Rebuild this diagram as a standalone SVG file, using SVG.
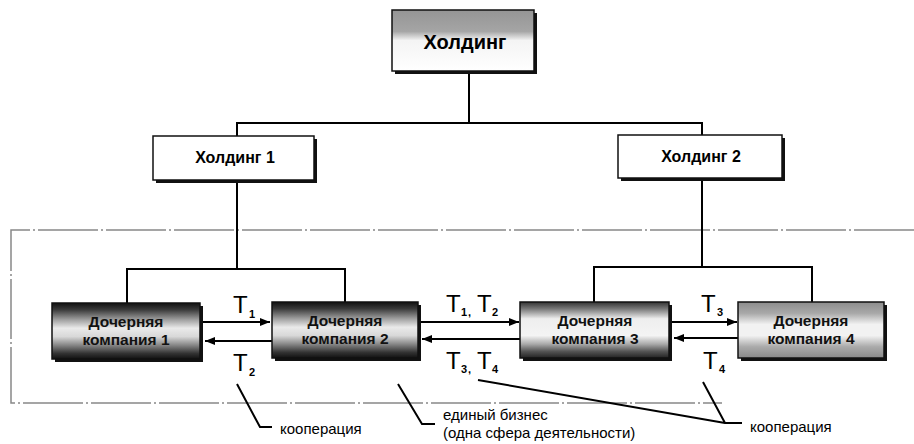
<svg xmlns="http://www.w3.org/2000/svg" width="914" height="444" viewBox="0 0 914 444">
<defs>
<linearGradient id="gTop" x1="0" y1="0" x2="0" y2="1">
<stop offset="0" stop-color="#959595"/><stop offset="0.35" stop-color="#a5a5a5"/><stop offset="0.5" stop-color="#f4f4f4"/><stop offset="1" stop-color="#ffffff"/>
</linearGradient>
<linearGradient id="gDark" x1="0" y1="0" x2="0" y2="1">
<stop offset="0" stop-color="#111"/><stop offset="0.12" stop-color="#3a3a3a"/><stop offset="0.3" stop-color="#a0a0a0"/><stop offset="0.45" stop-color="#eaeaea"/><stop offset="0.6" stop-color="#d8d8d8"/><stop offset="0.75" stop-color="#888"/><stop offset="0.9" stop-color="#333"/><stop offset="1" stop-color="#111"/>
</linearGradient>
<linearGradient id="gMid" x1="0" y1="0" x2="0" y2="1">
<stop offset="0" stop-color="#333"/><stop offset="0.12" stop-color="#777"/><stop offset="0.3" stop-color="#eee"/><stop offset="0.6" stop-color="#f4f4f4"/><stop offset="0.75" stop-color="#aaa"/><stop offset="0.88" stop-color="#555"/><stop offset="1" stop-color="#222"/>
</linearGradient>
<linearGradient id="gLight" x1="0" y1="0" x2="0" y2="1">
<stop offset="0" stop-color="#8c8c8c"/><stop offset="0.2" stop-color="#a8a8a8"/><stop offset="0.4" stop-color="#f2f2f2"/><stop offset="0.6" stop-color="#f2f2f2"/><stop offset="0.8" stop-color="#aaa"/><stop offset="1" stop-color="#888"/>
</linearGradient>
<marker id="ah" viewBox="0 0 10 8" refX="10" refY="4" markerWidth="10" markerHeight="8" markerUnits="userSpaceOnUse" orient="auto">
<path d="M0,0 L10,4 L0,8 Z" fill="#000"/>
</marker>
</defs>
<style>
.shadow{fill:#111}
.box{stroke:#111;stroke-width:1.5}
.hl{font-family:"Liberation Sans",Arial,sans-serif;font-weight:bold;fill:#000;text-anchor:middle}
.sub{font-family:"Liberation Sans",Arial,sans-serif;font-weight:bold;font-size:15.5px;fill:#111;text-anchor:middle}
.ln{fill:none;stroke:#000;stroke-width:2}
.arr{fill:none;stroke:#000;stroke-width:2;marker-end:url(#ah)}
.frame{fill:none;stroke:#888;stroke-width:1.5;stroke-dasharray:60 3 2 3}
.t{font-family:"Liberation Sans",Arial,sans-serif;font-size:24px;fill:#000}
.ts{font-family:"Liberation Sans",Arial,sans-serif;font-size:11px;font-weight:bold;fill:#000}
.note{font-family:"Liberation Sans",Arial,sans-serif;font-size:15px;fill:#000}
</style>

<g id="frame">
<path class="frame" d="M914,230 L11,230 L11,403 L722,403"/>
</g>

<g id="connectors">
<path class="ln" d="M469,73 V123 M237,123 H702 M237,122 V136 M702,122 V135"/>
<path class="ln" d="M237,182 V269 M127,269 H345 M127,268 V303 M345,268 V302"/>
<path class="ln" d="M702,180 V267 M594,267 H812 M594,266 V302 M812,266 V302"/>
<path class="arr" d="M203,322 H270"/>
<path class="arr" d="M272,341 H205"/>
<path class="arr" d="M421,322 H519"/>
<path class="arr" d="M520,339 H422"/>
<path class="arr" d="M672,322 H737"/>
<path class="arr" d="M738,338 H674"/>
<path class="ln" d="M237,384 L260,427 H272"/>
<path class="ln" d="M398,384 L422,424 H435"/>
<path class="ln" d="M478,380 L725,423 M703,382 L725,423 H742"/>
</g>

<g id="holding">
<rect class="shadow" x="395" y="13" width="142" height="61"/>
<rect class="box" x="392" y="10" width="142" height="61" fill="url(#gTop)"/>
<text class="hl" x="465" y="49" font-size="20">Холдинг</text>
</g>

<g id="holding1">
<rect class="shadow" x="156" y="139" width="161" height="44"/>
<rect class="box" x="153" y="136" width="161" height="44" fill="#fff"/>
<text class="hl" x="235" y="163" font-size="16">Холдинг 1</text>
</g>

<g id="holding2">
<rect class="shadow" x="621" y="138" width="164" height="43"/>
<rect class="box" x="618" y="135" width="164" height="43" fill="#fff"/>
<text class="hl" x="701" y="162" font-size="16">Холдинг 2</text>
</g>

<g id="sub1">
<rect class="shadow" x="55" y="306" width="148" height="56"/>
<rect class="box" x="52" y="303" width="148" height="56" fill="url(#gDark)"/>
<text class="sub" x="126" y="327">Дочерняя</text>
<text class="sub" x="126" y="345">компания 1</text>
</g>

<g id="sub2">
<rect class="shadow" x="275" y="305" width="146" height="56"/>
<rect class="box" x="272" y="302" width="146" height="56" fill="url(#gDark)"/>
<text class="sub" x="345" y="326">Дочерняя</text>
<text class="sub" x="345" y="344">компания 2</text>
</g>

<g id="sub3">
<rect class="shadow" x="523" y="305" width="149" height="56"/>
<rect class="box" x="520" y="302" width="149" height="56" fill="url(#gMid)"/>
<text class="sub" x="595" y="326">Дочерняя</text>
<text class="sub" x="595" y="344">компания 3</text>
</g>

<g id="sub4">
<rect class="shadow" x="741" y="305" width="146" height="56"/>
<rect class="box" x="738" y="302" width="146" height="56" fill="url(#gLight)"/>
<text class="sub" x="811" y="326">Дочерняя</text>
<text class="sub" x="811" y="344">компания 4</text>
</g>

<g id="labels">
<text class="t" x="233" y="313">T</text><text class="ts" x="249" y="318">1</text>
<text class="t" x="233" y="371">T</text><text class="ts" x="249" y="376">2</text>
<text class="t" x="446" y="312">T</text><text class="ts" x="461" y="316">1</text><text class="ts" x="468" y="316">,</text>
<text class="t" x="477" y="312">T</text><text class="ts" x="492" y="316">2</text>
<text class="t" x="446" y="369">T</text><text class="ts" x="461" y="373">3</text><text class="ts" x="468" y="373">,</text>
<text class="t" x="477" y="369">T</text><text class="ts" x="492" y="373">4</text>
<text class="t" x="701" y="312">T</text><text class="ts" x="717" y="316">3</text>
<text class="t" x="703" y="369">T</text><text class="ts" x="719" y="373">4</text>
</g>

<g id="notes">
<text class="note" x="280" y="434">кооперация</text>
<text class="note" x="443" y="420">единый бизнес</text>
<text class="note" x="443" y="438">(одна сфера деятельности)</text>
<text class="note" x="750" y="432">кооперация</text>
</g>
</svg>
